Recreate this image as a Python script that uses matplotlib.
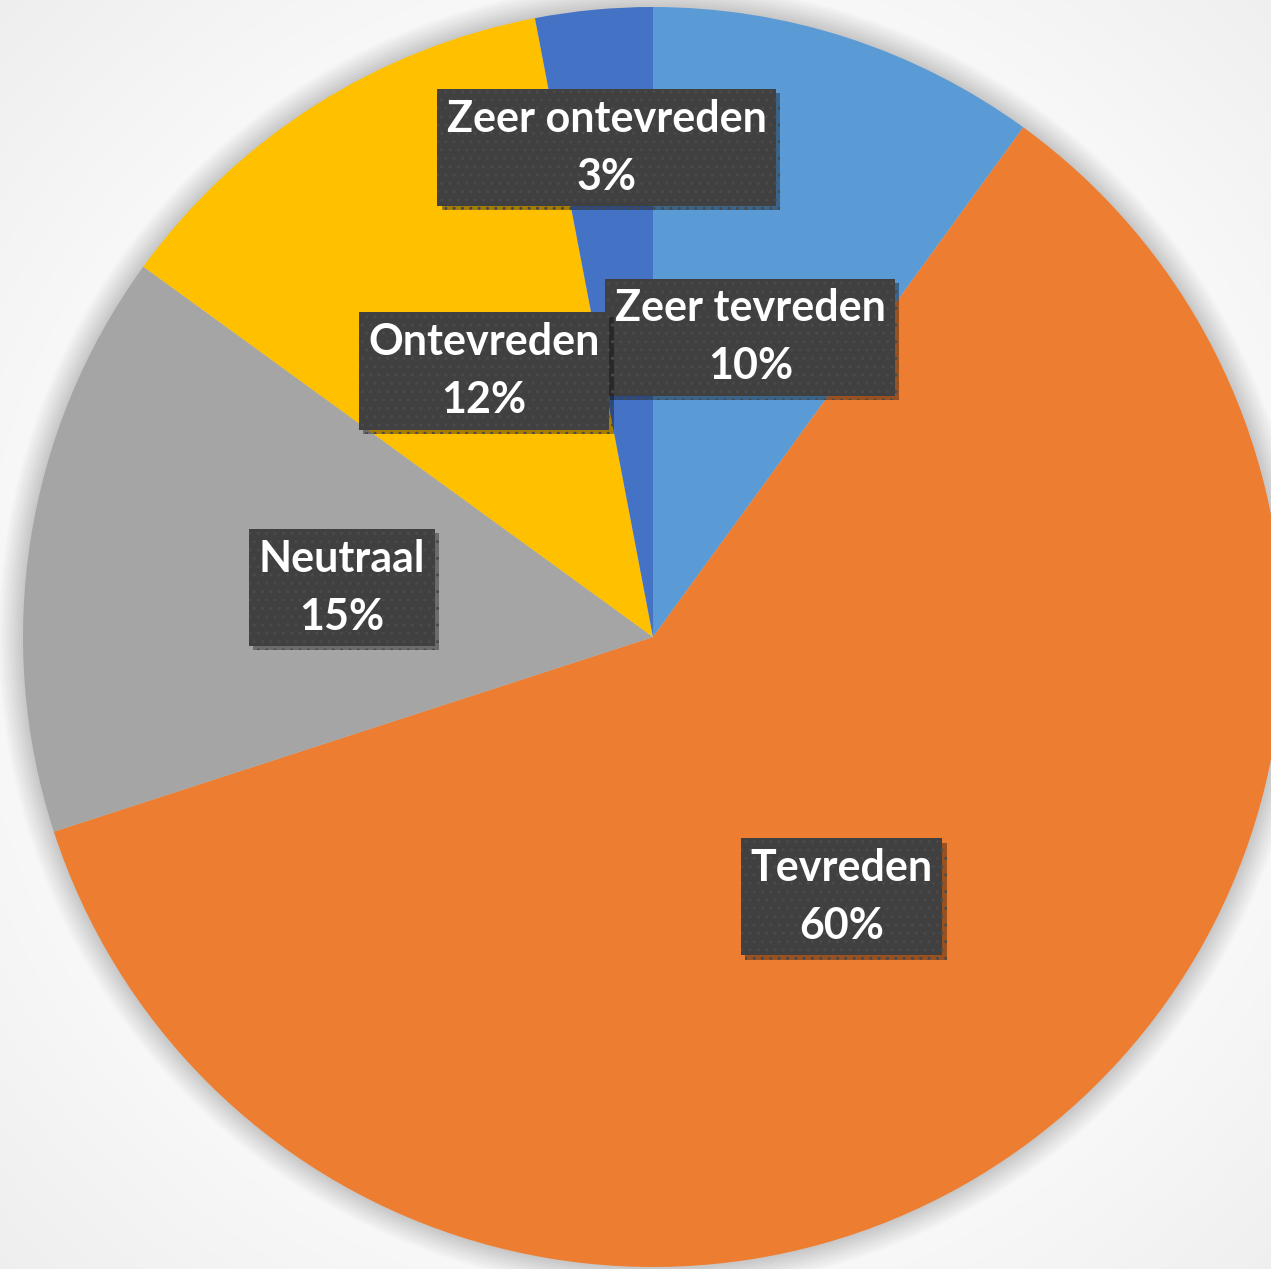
import numpy as np
import matplotlib
matplotlib.use("Agg")
import matplotlib.pyplot as plt
import matplotlib.patheffects as pe
from matplotlib.patches import Circle

labels = ["Zeer tevreden", "Tevreden", "Neutraal", "Ontevreden", "Zeer ontevreden"]
values = [10, 60, 15, 12, 3]
colors = ["#5B9BD5", "#ED7D31", "#A5A5A5", "#FFC000", "#4472C4"]
label_dist = [0.50, 0.51, 0.50, 0.50, 0.78]

W, H = 1271, 1269
cx, cy, r = 653, H - 637, 630

fig = plt.figure(figsize=(W / 100, H / 100), dpi=100)
ax = fig.add_axes([0, 0, 1, 1])

# soft radial background
yy, xx = np.mgrid[0:H, 0:W]
d = np.hypot(xx - cx, yy - (H - cy)) / r
bg = np.clip(0.975 - 0.09 * np.clip(d - 1.0, 0, None), 0.9, 1)
ax.imshow(np.dstack([bg, bg, bg]), extent=(0, W, 0, H), origin="upper", zorder=0)

# pie shadow
for k in range(12):
    ax.add_patch(Circle((cx, cy), r + 2 + k * 2, color="black", alpha=0.015, lw=0, zorder=1))

wedges, _ = ax.pie(values, colors=colors, startangle=90, counterclock=False,
                   center=(cx, cy), radius=r, wedgeprops=dict(linewidth=0, zorder=2))

for w, lab, val, dist in zip(wedges, labels, values, label_dist):
    mid = np.deg2rad((w.theta1 + w.theta2) / 2)
    x = cx + dist * r * np.cos(mid)
    y = cy + dist * r * np.sin(mid)
    t = ax.text(x, y, f"{lab}\n{val}%", ha="center", va="center", color="white",
                fontsize=31, fontweight="bold", family=["Lato", "DejaVu Sans"],
                linespacing=1.55, zorder=5,
                bbox=dict(boxstyle="square,pad=0.22", facecolor="#404040",
                          edgecolor="#4a4a4a", hatch="..", linewidth=0))
    t.get_bbox_patch().set_path_effects(
        [pe.withSimplePatchShadow(offset=(3, -3), shadow_rgbFace="black", alpha=0.35)])

ax.set_xlim(0, W)
ax.set_ylim(0, H)
ax.set_aspect("auto")
ax.axis("off")
fig.savefig("out.png", dpi=100)
